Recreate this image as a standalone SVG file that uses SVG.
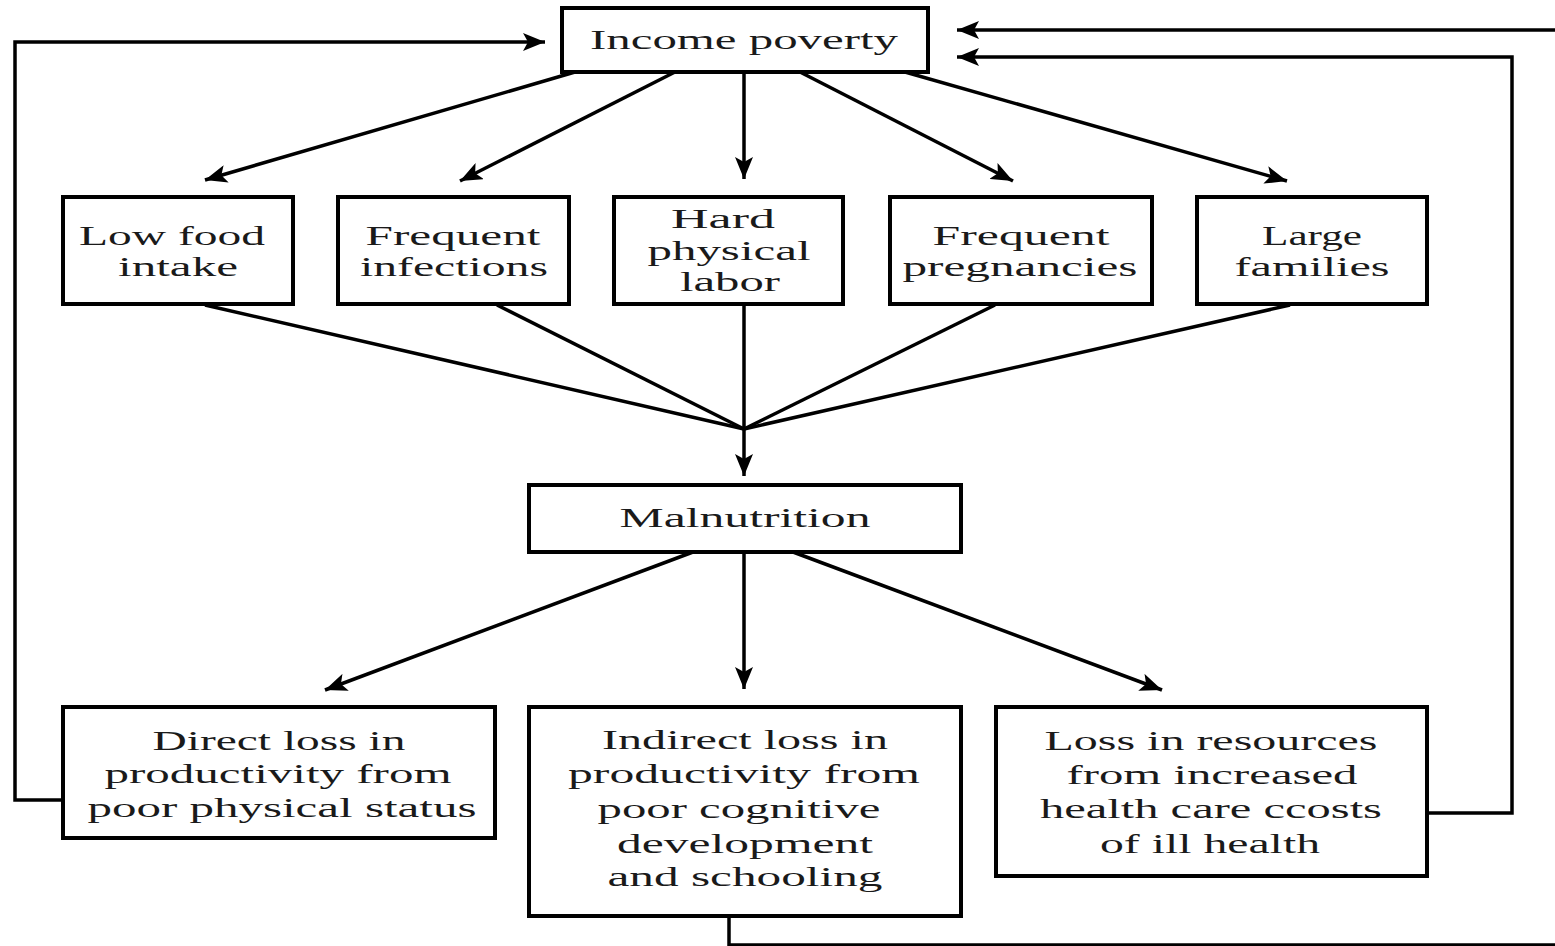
<svg xmlns="http://www.w3.org/2000/svg" width="1555" height="946" viewBox="0 0 1555 946">
<defs>
<marker id="ah" markerUnits="userSpaceOnUse" markerWidth="24" markerHeight="18" refX="22" refY="9" orient="auto">
<path d="M0,0 L22,9 L0,18 L5,9 Z" fill="#000"/>
</marker>
<style>
.box{fill:#fff;stroke:#000;stroke-width:4}
.ln{fill:none;stroke:#000;stroke-width:3.5}
.t{font-family:"Liberation Serif","Times New Roman",serif;font-size:28px;fill:#1a1a1a;text-anchor:middle}
</style>
</defs>
<rect width="1555" height="946" fill="#fff"/>
<g id="connectors">
<line class="ln" x1="575" y1="72" x2="205" y2="180" marker-end="url(#ah)"/>
<line class="ln" x1="675" y1="72" x2="460" y2="181" marker-end="url(#ah)"/>
<line class="ln" x1="744" y1="72" x2="744" y2="179" marker-end="url(#ah)"/>
<line class="ln" x1="800" y1="72" x2="1013" y2="181" marker-end="url(#ah)"/>
<line class="ln" x1="905" y1="72" x2="1287" y2="181" marker-end="url(#ah)"/>
<line class="ln" x1="205" y1="305" x2="744" y2="429"/>
<line class="ln" x1="497" y1="305" x2="744" y2="429"/>
<line class="ln" x1="744" y1="305" x2="744" y2="429"/>
<line class="ln" x1="995" y1="305" x2="744" y2="429"/>
<line class="ln" x1="1290" y1="305" x2="744" y2="429"/>
<line class="ln" x1="744" y1="427" x2="744" y2="476" marker-end="url(#ah)"/>
<line class="ln" x1="693" y1="552" x2="325" y2="690" marker-end="url(#ah)"/>
<line class="ln" x1="744" y1="552" x2="744" y2="689" marker-end="url(#ah)"/>
<line class="ln" x1="793" y1="552" x2="1162" y2="690" marker-end="url(#ah)"/>
<path class="ln" d="M63,800 H15 V42 H545" marker-end="url(#ah)"/>
<path class="ln" d="M1427,813 H1512 V57 H957" marker-end="url(#ah)"/>
<path class="ln" d="M729,916 V945 H1555"/>
<path class="ln" d="M1555,30 H957" marker-end="url(#ah)"/>
</g>
<g id="income-poverty">
<rect class="box" x="562" y="8" width="366" height="64"/>
<text class="t" x="744" y="49" textLength="308" lengthAdjust="spacingAndGlyphs">Income poverty</text>
</g>
<g id="low-food-intake">
<rect class="box" x="63" y="197" width="230" height="107"/>
<text class="t" x="172" y="245" textLength="186" lengthAdjust="spacingAndGlyphs">Low food</text>
<text class="t" x="178" y="276" textLength="120" lengthAdjust="spacingAndGlyphs">intake</text>
</g>
<g id="frequent-infections">
<rect class="box" x="338" y="197" width="231" height="107"/>
<text class="t" x="453" y="245" textLength="175" lengthAdjust="spacingAndGlyphs">Frequent</text>
<text class="t" x="454" y="276" textLength="188" lengthAdjust="spacingAndGlyphs">infections</text>
</g>
<g id="hard-physical-labor">
<rect class="box" x="614" y="197" width="229" height="107"/>
<text class="t" x="723" y="228" textLength="104" lengthAdjust="spacingAndGlyphs">Hard</text>
<text class="t" x="729" y="260" textLength="163" lengthAdjust="spacingAndGlyphs">physical</text>
<text class="t" x="730" y="291" textLength="100" lengthAdjust="spacingAndGlyphs">labor</text>
</g>
<g id="frequent-pregnancies">
<rect class="box" x="890" y="197" width="262" height="107"/>
<text class="t" x="1021" y="245" textLength="177" lengthAdjust="spacingAndGlyphs">Frequent</text>
<text class="t" x="1020" y="276" textLength="235" lengthAdjust="spacingAndGlyphs">pregnancies</text>
</g>
<g id="large-families">
<rect class="box" x="1197" y="197" width="230" height="107"/>
<text class="t" x="1312" y="245" textLength="100" lengthAdjust="spacingAndGlyphs">Large</text>
<text class="t" x="1312" y="276" textLength="155" lengthAdjust="spacingAndGlyphs">families</text>
</g>
<g id="malnutrition">
<rect class="box" x="529" y="485" width="432" height="67"/>
<text class="t" x="745" y="527" textLength="251" lengthAdjust="spacingAndGlyphs">Malnutrition</text>
</g>
<g id="direct-loss">
<rect class="box" x="63" y="707" width="432" height="131"/>
<text class="t" x="279" y="750" textLength="253" lengthAdjust="spacingAndGlyphs">Direct loss in</text>
<text class="t" x="278" y="783" textLength="347" lengthAdjust="spacingAndGlyphs">productivity from</text>
<text class="t" x="282" y="817" textLength="389" lengthAdjust="spacingAndGlyphs">poor physical status</text>
</g>
<g id="indirect-loss">
<rect class="box" x="529" y="707" width="432" height="209"/>
<text class="t" x="745" y="749" textLength="286" lengthAdjust="spacingAndGlyphs">Indirect loss in</text>
<text class="t" x="744" y="783" textLength="352" lengthAdjust="spacingAndGlyphs">productivity from</text>
<text class="t" x="739" y="818" textLength="283" lengthAdjust="spacingAndGlyphs">poor cognitive</text>
<text class="t" x="745" y="853" textLength="256" lengthAdjust="spacingAndGlyphs">development</text>
<text class="t" x="745" y="886" textLength="275" lengthAdjust="spacingAndGlyphs">and schooling</text>
</g>
<g id="loss-resources">
<rect class="box" x="996" y="707" width="431" height="169"/>
<text class="t" x="1211" y="750" textLength="333" lengthAdjust="spacingAndGlyphs">Loss in resources</text>
<text class="t" x="1212" y="784" textLength="291" lengthAdjust="spacingAndGlyphs">from increased</text>
<text class="t" x="1211" y="818" textLength="342" lengthAdjust="spacingAndGlyphs">health care ccosts</text>
<text class="t" x="1210" y="853" textLength="220" lengthAdjust="spacingAndGlyphs">of ill health</text>
</g>
</svg>
